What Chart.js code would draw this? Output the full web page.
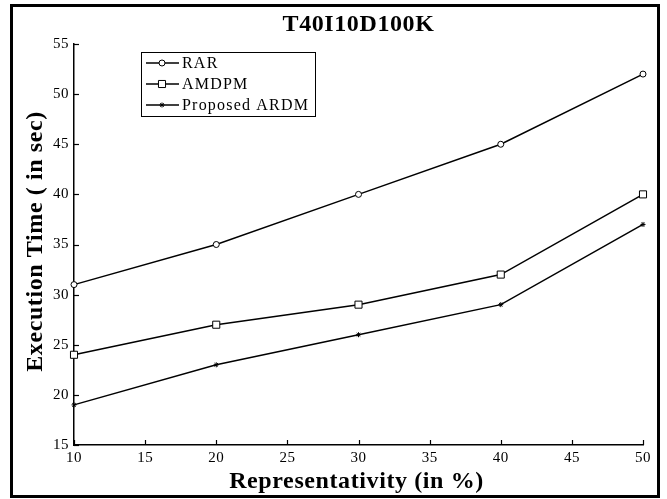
<!DOCTYPE html>
<html>
<head>
<meta charset="utf-8">
<script src="https://cdn.jsdelivr.net/npm/chart.js@4.4.1/dist/chart.umd.min.js"></script>
<style>
  html, body { margin: 0; padding: 0; background: #fff; }
  #wrap { width: 667px; height: 499px; }
</style>
</head>
<body>
<div id="wrap"><canvas id="execution_time"></canvas></div>
<script>
// values
var representativity = [10, 20, 30, 40, 50];
var rar = [31, 35, 40, 45, 52];
var amdpm = [24, 27, 29, 32, 40];
var ardm = [19, 23, 26, 29, 37];
var seriesNames = ['RAR', 'AMDPM', 'Proposed ARDM'];
var chartTitle = 'T40I10D100K';
var xTitle = 'Representativity (in %)';
var yTitle = 'Execution Time ( in sec)';

var serif = "'Liberation Serif', 'Times New Roman', serif";

function pts(ys) {
    return representativity.map(function(x, i) { return {x: x, y: ys[i]}; });
}

// frame, titles, inward tick marks and the boxed legend
var decor = {
    id: 'decor',
    beforeDraw: function(chart) {
        // the source figure's lettering runs a bit wider than Liberation Serif
        chart.ctx.letterSpacing = '0.5px';
    },
    afterDraw: function(chart) {
        var ctx = chart.ctx;
        var area = chart.chartArea;
        var midX = (area.left + area.right) / 2;
        var midY = (area.top + area.bottom) / 2;
        ctx.save();
        ctx.strokeStyle = '#000';
        ctx.fillStyle = '#000';
        ctx.lineWidth = 3;
        ctx.strokeRect(11.5, 5.5, 647, 491);

        // titles
        ctx.letterSpacing = '0.6px';
        ctx.font = 'bold 24px ' + serif;
        ctx.textAlign = 'center';
        ctx.textBaseline = 'alphabetic';
        ctx.fillText(chartTitle, midX, 31);
        ctx.fillText(xTitle, midX - 2, 488);
        ctx.save();
        ctx.translate(42, midY - 3);
        ctx.rotate(-Math.PI / 2);
        ctx.fillText(yTitle, 0, 0);
        ctx.restore();

        ctx.lineWidth = 1.2;
        var xs = chart.scales.x, ys = chart.scales.y;
        xs.ticks.forEach(function(t) {
            var px = Math.round(xs.getPixelForValue(t.value)) + 0.5;
            ctx.beginPath(); ctx.moveTo(px, area.bottom); ctx.lineTo(px, area.bottom - 5); ctx.stroke();
        });
        ys.ticks.forEach(function(t) {
            var py = Math.round(ys.getPixelForValue(t.value)) + 0.5;
            ctx.beginPath(); ctx.moveTo(area.left, py); ctx.lineTo(area.left + 5, py); ctx.stroke();
        });

        // legend box
        ctx.lineWidth = 1;
        ctx.strokeRect(141.5, 52.5, 174, 64);
        ctx.letterSpacing = '1.2px';
        ctx.font = '16px ' + serif;
        ctx.textAlign = 'left';
        ctx.textBaseline = 'middle';
        chart.data.datasets.forEach(function(ds, i) {
            var y = 63 + i * 21;
            ctx.strokeStyle = '#000';
            ctx.lineWidth = 1.5;
            ctx.beginPath(); ctx.moveTo(146, y); ctx.lineTo(179, y); ctx.stroke();
            ctx.fillStyle = ds.pointBackgroundColor;
            ctx.lineWidth = 1;
            Chart.helpers.drawPoint(ctx, {
                pointStyle: ds.pointStyle, radius: ds.pointRadius, borderWidth: 1
            }, 162, y);
            ctx.fillStyle = '#000';
            ctx.fillText(ds.label, 182, y + 1);
        });
        ctx.restore();
    }
};

const dt = {
    datasets: [
    {
        label: seriesNames[0],
        data: pts(rar),
        borderColor: '#000',
        borderWidth: 1.5,
        clip: false,
        pointStyle: 'circle',
        pointRadius: 3,
        pointBorderWidth: 1,
        pointBackgroundColor: '#fff',
        pointBorderColor: '#000'
    },
    {
        label: seriesNames[1],
        data: pts(amdpm),
        borderColor: '#000',
        borderWidth: 1.5,
        clip: false,
        pointStyle: 'rect',
        pointRadius: 5,
        pointBorderWidth: 1,
        pointBackgroundColor: '#fff',
        pointBorderColor: '#000'
    },
    {
        label: seriesNames[2],
        data: pts(ardm),
        borderColor: '#000',
        borderWidth: 1.5,
        clip: false,
        pointStyle: 'star',
        pointRadius: 2.5,
        pointBorderWidth: 1,
        pointBackgroundColor: '#000',
        pointBorderColor: '#000'
    }
    ]
};

const config_execution_time = {
    type: 'line',
    data: dt,
    options: {
        responsive: true,
        maintainAspectRatio: false,
        animation: false,
        layout: { padding: { left: 0, right: 24, top: 44, bottom: 0 } },
        plugins: {
            legend: { display: false },
            tooltip: { enabled: false },
            title: { display: false }
        },
        scales: {
            x: {
                type: 'linear',
                min: 10, max: 50,
                afterFit: function(s) { s.height = 54; },
                grid: { drawOnChartArea: false, drawTicks: false },
                border: { display: true, color: '#000', width: 1.5 },
                ticks: {
                    stepSize: 5, color: '#000', padding: 4,
                    font: { family: serif, size: 15 }
                }
            },
            y: {
                min: 15, max: 55,
                afterFit: function(s) { s.width = 74; },
                grid: { drawOnChartArea: false, drawTicks: false },
                border: { display: true, color: '#000', width: 1.5 },
                ticks: {
                    stepSize: 5, color: '#000', padding: 5,
                    font: { family: serif, size: 15 }
                }
            }
        }
    },
    plugins: [decor]
};

const execution_time_chart = new Chart(
    document.getElementById('execution_time'),
    config_execution_time
);
</script>
</body>
</html>
